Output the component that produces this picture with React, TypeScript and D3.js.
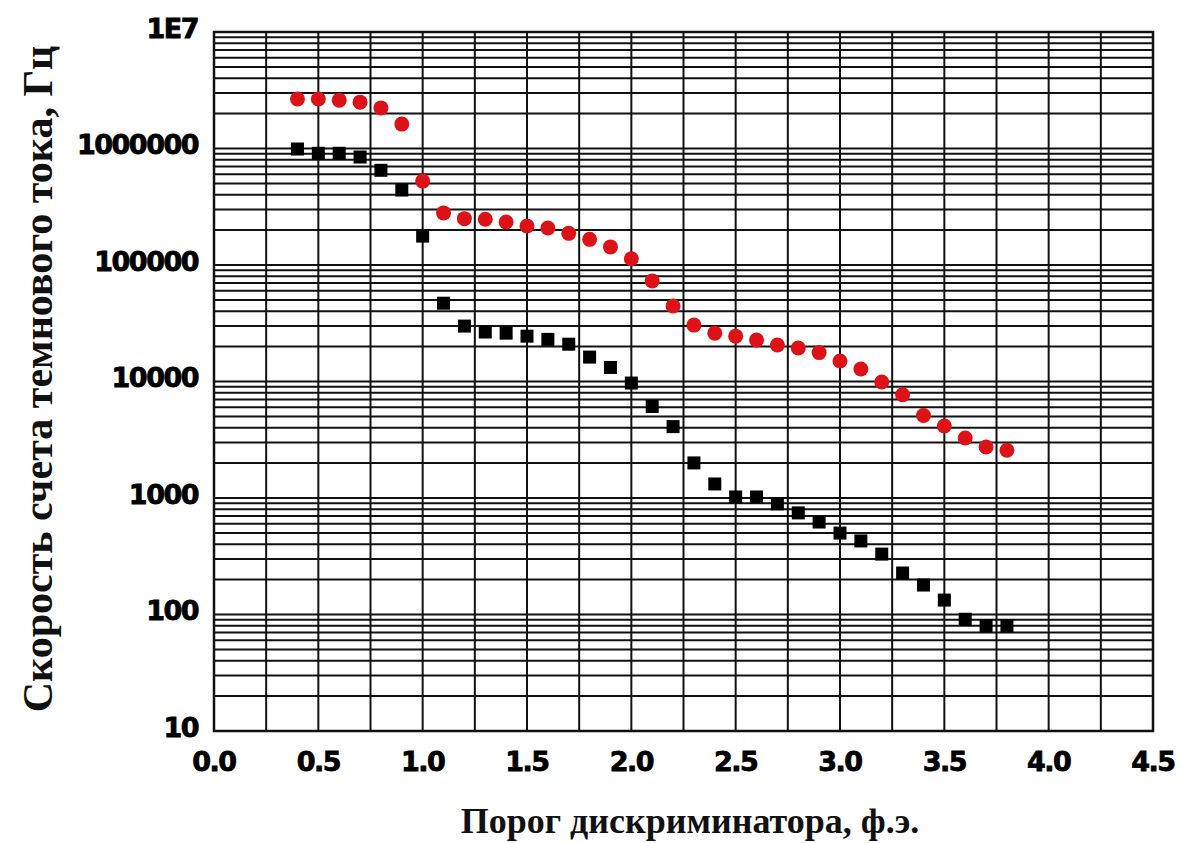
import React, { useEffect, useRef } from 'react';
import * as d3 from 'd3';

// threshold, photoelectrons
const thresholds = [
  0.4, 0.5, 0.6, 0.7, 0.8, 0.9, 1.0, 1.1, 1.2, 1.3, 1.4, 1.5, 1.6, 1.7, 1.8, 1.9, 2.0, 2.1,
  2.2, 2.3, 2.4, 2.5, 2.6, 2.7, 2.8, 2.9, 3.0, 3.1, 3.2, 3.3, 3.4, 3.5, 3.6, 3.7, 3.8,
];

// black squares
const blackRates = [
  990000, 910000, 910000, 845000, 650000, 440000, 177000, 47000, 29900, 26600, 26000, 24500,
  23000, 20900, 16200, 13200, 9700, 6100, 4100, 2000, 1320, 1020, 1020, 890, 745, 622, 500,
  428, 330, 227, 179, 133, 91, 80, 80,
];

// red circles
const redRates = [
  2660000, 2660000, 2600000, 2500000, 2230000, 1620000, 525000, 280000, 250000, 247000, 234000,
  216000, 208000, 187000, 166000, 143000, 113000, 73000, 44500, 30500, 26000, 24500, 22700,
  20600, 19400, 17700, 15000, 12800, 9900, 7700, 5100, 4150, 3270, 2740, 2570,
];

const xTicks = [0, 0.5, 1, 1.5, 2, 2.5, 3, 3.5, 4, 4.5];
const yTicks = [10, 100, 1000, 10000, 100000, 1000000, 10000000];
const yTickLabels = ['10', '100', '1000', '10000', '100000', '1000000', '1E7'];

const xTitle = 'Порог дискриминатора, ф.э.';
const yTitle = 'Скорость счета темнового тока, Гц';

const W = 1182;
const H = 843;
const margin = { left: 214, right: 29, top: 32, bottom: 112 };

const App = () => {
  const ref = useRef(null);

  useEffect(() => {
    const svg = d3.select(ref.current);
    svg.selectAll('*').remove();

    const innerW = W - margin.left - margin.right;
    const innerH = H - margin.top - margin.bottom;

    const x = d3.scaleLinear().domain([0, 4.5]).range([0, innerW]);
    const y = d3.scaleLog().domain([10, 1e7]).range([innerH, 0]);

    svg.append('rect').attr('width', W).attr('height', H).attr('fill', '#fff');

    const g = svg.append('g').attr('transform', `translate(${margin.left},${margin.top})`);

    // horizontal grid: every 1..9 of each decade
    const hLines = [];
    for (let p = 1; p < 7; p++) {
      for (let m = 1; m < 10; m++) hLines.push(m * Math.pow(10, p));
    }
    hLines.push(1e7);
    g.append('g')
      .selectAll('line')
      .data(hLines)
      .join('line')
      .attr('x1', 0)
      .attr('x2', innerW)
      .attr('y1', (d) => y(d))
      .attr('y2', (d) => y(d))
      .attr('stroke', '#111')
      .attr('stroke-width', 2);

    // vertical grid every 0.25
    const vLines = d3.range(0, 4.5001, 0.25);
    g.append('g')
      .selectAll('line')
      .data(vLines)
      .join('line')
      .attr('x1', (d) => x(d))
      .attr('x2', (d) => x(d))
      .attr('y1', 0)
      .attr('y2', innerH)
      .attr('stroke', '#111')
      .attr('stroke-width', 2);

    g.append('rect')
      .attr('width', innerW)
      .attr('height', innerH)
      .attr('fill', 'none')
      .attr('stroke', '#111')
      .attr('stroke-width', 2.5);

    // tick labels
    const tickFont = '"DejaVu Sans", sans-serif';
    g.append('g')
      .selectAll('text')
      .data(yTicks)
      .join('text')
      .attr('x', -16)
      .attr('y', (d) => y(d) - 4)
      .attr('text-anchor', 'end')
      .attr('dominant-baseline', 'central')
      .attr('font-family', tickFont)
      .attr('font-weight', 'bold')
      .attr('font-size', 27)
      .attr('letter-spacing', -1.5)
      .attr('fill', '#000')
      .attr('stroke', '#000')
      .attr('stroke-width', 0.8)
      .text((d, i) => yTickLabels[i]);

    g.append('g')
      .selectAll('text')
      .data(xTicks)
      .join('text')
      .attr('x', (d) => x(d))
      .attr('y', innerH + 30)
      .attr('text-anchor', 'middle')
      .attr('dominant-baseline', 'central')
      .attr('font-family', tickFont)
      .attr('font-weight', 'bold')
      .attr('font-size', 27)
      .attr('letter-spacing', -1.5)
      .attr('fill', '#000')
      .attr('stroke', '#000')
      .attr('stroke-width', 0.8)
      .text((d) => d.toFixed(1));

    // data
    const black = thresholds.map((t, i) => ({ t, v: blackRates[i] }));
    const red = thresholds.map((t, i) => ({ t, v: redRates[i] }));

    g.append('g')
      .selectAll('rect')
      .data(black)
      .join('rect')
      .attr('x', (d) => x(d.t) - 6.5)
      .attr('y', (d) => y(d.v) - 6.5)
      .attr('width', 13)
      .attr('height', 13)
      .attr('fill', '#000');

    const redSymbol = d3.symbol().type(d3.symbolCircle).size(Math.PI * 7.5 * 7.5);
    g.append('g')
      .selectAll('path')
      .data(red)
      .join('path')
      .attr('transform', (d) => `translate(${x(d.t)},${y(d.v)})`)
      .attr('d', redSymbol)
      .attr('fill', '#dd1216');

    // titles
    const titleFont = '"Liberation Serif", "Times New Roman", serif';
    svg.append('text')
      .attr('x', 690)
      .attr('y', 833)
      .attr('text-anchor', 'middle')
      .attr('font-family', titleFont)
      .attr('font-weight', 'bold')
      .attr('font-size', 36)
      .attr('fill', '#111')
      .text(xTitle);

    svg.append('text')
      .attr('transform', `translate(52,379) rotate(-90)`)
      .attr('text-anchor', 'middle')
      .attr('font-family', titleFont)
      .attr('font-weight', 'bold')
      .attr('font-size', 42)
      .attr('fill', '#111')
      .text(yTitle);
  }, []);

  return (
    <svg
      ref={ref}
      width={W}
      height={H}
      style={{ position: 'absolute', left: 0, top: 0, display: 'block' }}
    />
  );
};

export default App;
